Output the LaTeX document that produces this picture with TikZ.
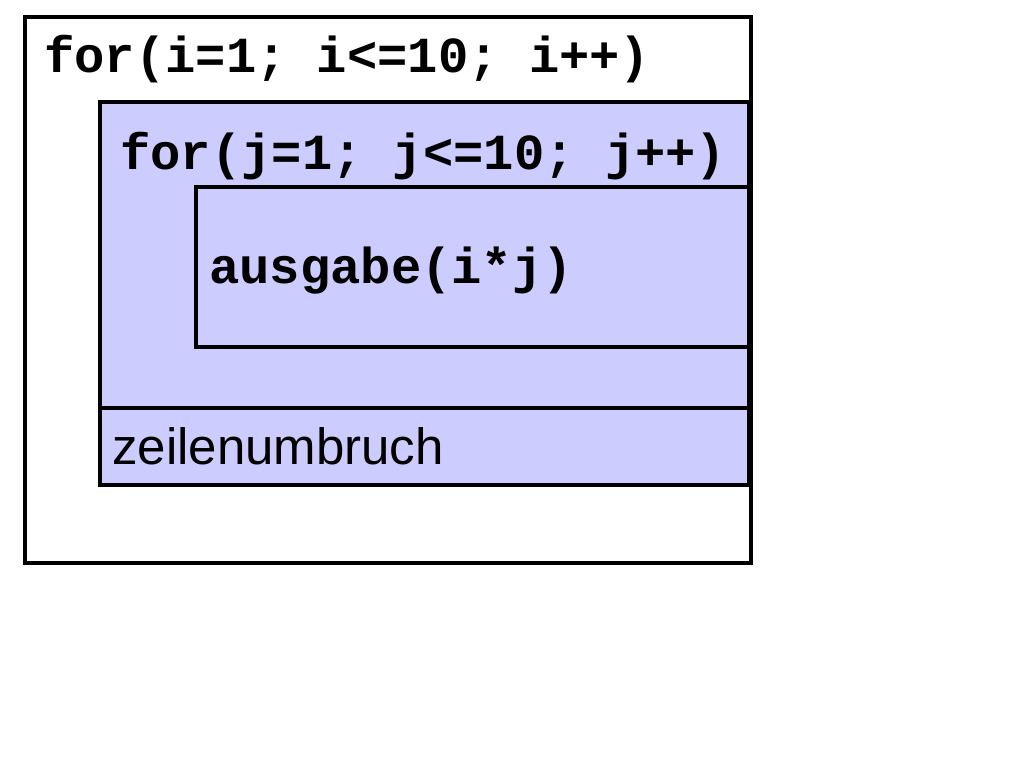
\documentclass[tikz,border=0pt]{standalone}
\usepackage{fontspec}
\setmainfont{Liberation Sans}
\setmonofont{Liberation Mono}
\definecolor{boxblue}{HTML}{CCCCFF}
\begin{document}
\begin{tikzpicture}[x=1pt,y=-1pt,
  frame/.style={draw=black,line width=4pt},
  code/.style={anchor=base west,inner sep=0pt,font=\fontsize{50.5}{50}\ttfamily\bfseries},
  plain/.style={anchor=base west,inner sep=0pt,font=\fontsize{51}{51}\selectfont}]
\useasboundingbox (0,0) rectangle (1024,768);
\draw[frame,fill=white] (25,17) rectangle (751,563);
\draw[frame,fill=boxblue] (100,102) rectangle (749,408);
\draw[frame,fill=boxblue] (196,187) rectangle (749,347);
\draw[frame,fill=boxblue] (100,408) rectangle (749,485);
\node[code] (t1) at (44,72) {for(i=1; i<=10; i++)};
\node[code] (t2) at (120,169) {for(j=1; j<=10; j++)};
\node[code] (t3) at (209,283) {ausgabe(i*j)};
\node[plain] (t4) at (112,464) {zeilenumbruch};
\end{tikzpicture}
\end{document}
